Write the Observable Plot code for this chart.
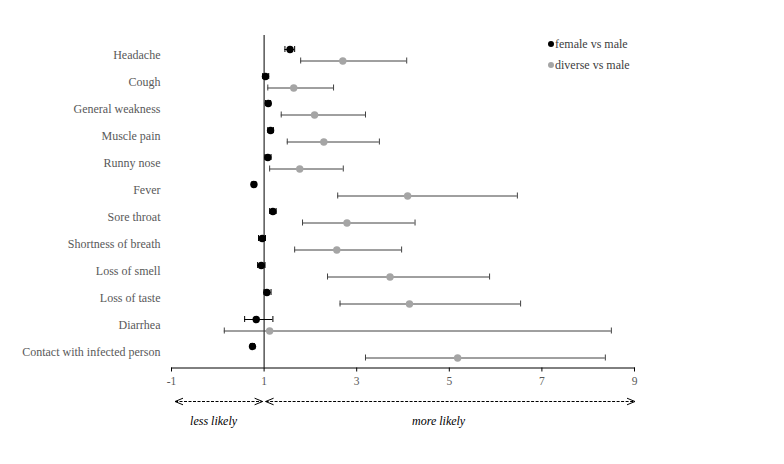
<!DOCTYPE html>
<html><head><meta charset="utf-8">
<script src="https://cdn.jsdelivr.net/npm/d3@7"></script>
<script src="https://cdn.jsdelivr.net/npm/@observablehq/plot@0.6"></script>
<style>
body{margin:0;background:#fff;}
#wrap{position:relative;width:784px;height:464px;overflow:hidden;}
.leg{position:absolute;font-family:"Liberation Serif",serif;font-size:12px;color:#404040;white-space:nowrap;line-height:14px;}
.leg span.sw{display:inline-block;width:6px;height:6px;border-radius:50%;margin-right:1px;vertical-align:middle;position:relative;top:-1px;}
</style></head><body><div id="wrap"></div>
<script>
const symptoms = ["Headache","Cough","General weakness","Muscle pain","Runny nose","Fever","Sore throat","Shortness of breath","Loss of smell","Loss of taste","Diarrhea","Contact with infected person"];
const femaleOR = [1.56, 1.03, 1.09, 1.14, 1.08, 0.78, 1.19, 0.96, 0.94, 1.06, 0.83, 0.75];
const femaleLo = [1.45, 0.97, 1.03, 1.08, 1.02, 0.74, 1.12, 0.88, 0.86, 1.00, 0.58, 0.71];
const femaleHi = [1.66, 1.10, 1.14, 1.20, 1.15, 0.82, 1.26, 1.03, 1.02, 1.15, 1.19, 0.79];
const diverseOR = [2.70, 1.64, 2.09, 2.29, 1.77, 4.10, 2.79, 2.57, 3.72, 4.14, 1.12, 5.18];
const diverseLo = [1.79, 1.08, 1.37, 1.50, 1.12, 2.59, 1.83, 1.66, 2.37, 2.64, 0.14, 3.19];
const diverseHi = [4.08, 2.50, 3.19, 3.49, 2.71, 6.47, 4.26, 3.97, 5.87, 6.54, 8.50, 8.37];
const xTicks = [-1, 1, 3, 5, 7, 9];
const seriesNames = ["female vs male", "diverse vs male"];
const seriesColors = ["#000000", "#a5a5a5"];
const directionLabels = ["less likely", "more likely"];

const female = symptoms.map((s, i) => ({s, v: femaleOR[i], lo: femaleLo[i], hi: femaleHi[i]}));
const diverse = symptoms.map((s, i) => ({s, v: diverseOR[i], lo: diverseLo[i], hi: diverseHi[i]}));

const dF = -5.5, dD = 6;
const capInset = 10.5;

const plot = Plot.plot({
  width: 784, height: 464,
  marginTop: 38, marginBottom: 96.5, marginLeft: 171, marginRight: 150,
  style: {fontFamily: "Liberation Serif, serif", fontSize: "12px", background: "white", color: "#595959"},
  x: {domain: [-1, 9]},
  y: {domain: symptoms, padding: 0},
  marks: [
    Plot.axisX({ticks: xTicks, tickSize: 4, tickPadding: 5, stroke: "#000", fill: "#595959", fontSize: 11.5, label: null, tickFormat: d => String(d)}),
    Plot.axisY({tickSize: 0, tickPadding: 11, label: null, fill: "#595959", fontSize: 12}),
    Plot.frame({anchor: "bottom", stroke: "#000"}),
    Plot.ruleX([1], {stroke: "#000", insetTop: -3}),
    Plot.ruleY(diverse, {y: "s", x1: "lo", x2: "hi", dy: dD, stroke: "#404040"}),
    Plot.tickX(diverse, {y: "s", x: "lo", dy: dD, insetTop: capInset, insetBottom: capInset, stroke: "#404040"}),
    Plot.tickX(diverse, {y: "s", x: "hi", dy: dD, insetTop: capInset, insetBottom: capInset, stroke: "#404040"}),
    Plot.ruleY(female, {y: "s", x1: "lo", x2: "hi", dy: dF, stroke: "#000"}),
    Plot.tickX(female, {y: "s", x: "lo", dy: dF, insetTop: capInset, insetBottom: capInset, stroke: "#000"}),
    Plot.tickX(female, {y: "s", x: "hi", dy: dF, insetTop: capInset, insetBottom: capInset, stroke: "#000"}),
    Plot.dot(diverse, {y: "s", x: "v", dy: dD, r: 3.7, fill: seriesColors[1], stroke: null}),
    Plot.dot(female, {y: "s", x: "v", dy: dF, r: 3.7, fill: seriesColors[0], stroke: null})
  ]
});

document.getElementById("wrap").appendChild(plot);

// direction annotation below axis
const xs = plot.scale("x");
const X = v => xs.apply(v);
const svg = d3.select(plot);
const ay = 401.5;
const g = svg.append("g").attr("stroke", "#000").attr("fill", "none").attr("stroke-width", 1);
function dblArrow(x1, x2) {
  g.append("line").attr("x1", x1).attr("x2", x2).attr("y1", ay).attr("y2", ay).attr("stroke-dasharray", "3,1.5");
  g.append("path").attr("d", `M${x1 + 8},${ay - 3.3}L${x1},${ay}L${x1 + 8},${ay + 3.3}`);
  g.append("path").attr("d", `M${x2 - 8},${ay - 3.3}L${x2},${ay}L${x2 - 8},${ay + 3.3}`);
}
dblArrow(X(-1) + 4, X(1) - 1);
dblArrow(X(1) + 2, X(9) + 1);
const tg = svg.append("g").attr("font-family", "Liberation Serif, serif").attr("font-style", "italic").attr("font-size", 12).attr("fill", "#000").attr("text-anchor", "middle");
tg.append("text").attr("x", X(-0.08)).attr("y", 425).text(directionLabels[0]);
tg.append("text").attr("x", X(4.78)).attr("y", 425).text(directionLabels[1]);

// legend
const wrap = document.getElementById("wrap");
const legPos = [[548, 37], [548, 58]];
seriesNames.forEach((n, i) => {
  const d = document.createElement("div");
  d.className = "leg";
  d.style.left = legPos[i][0] + "px";
  d.style.top = legPos[i][1] + "px";
  d.innerHTML = `<span class="sw" style="background:${seriesColors[i]}"></span>${n}`;
  wrap.appendChild(d);
});
</script></body></html>
